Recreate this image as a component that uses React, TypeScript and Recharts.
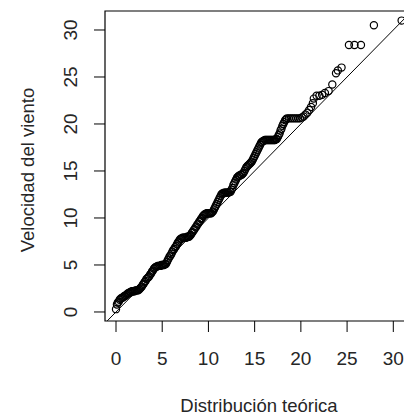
import { ScatterChart, Scatter, XAxis, YAxis, ReferenceArea } from 'recharts';

// Q-Q plot: theoretical quantiles vs observed wind speed
const theoretical = [
  0.0, 0.1, 0.2, 0.3, 0.4, 0.5, 0.6, 0.7, 0.8, 0.9, 1.0, 1.1, 1.2, 1.3, 1.4, 1.5, 1.6, 1.7, 1.8, 1.9,
  2.0, 2.1, 2.2, 2.3, 2.4, 2.5, 2.6, 2.7, 2.8, 2.9, 3.0, 3.1, 3.2, 3.3, 3.4, 3.5, 3.6, 3.7, 3.8, 3.9,
  4.0, 4.1, 4.2, 4.3, 4.4, 4.5, 4.6, 4.7, 4.8, 4.9, 5.0, 5.1, 5.2, 5.3, 5.4, 5.5, 5.6, 5.7, 5.8, 5.9,
  6.0, 6.1, 6.2, 6.3, 6.4, 6.5, 6.6, 6.7, 6.8, 6.9, 7.0, 7.1, 7.2, 7.3, 7.4, 7.5, 7.6, 7.7, 7.8, 7.9,
  8.0, 8.1, 8.2, 8.3, 8.4, 8.5, 8.6, 8.7, 8.8, 8.9, 9.0, 9.1, 9.2, 9.3, 9.4, 9.5, 9.6, 9.7, 9.8, 9.9,
  10.0, 10.1, 10.2, 10.3, 10.4, 10.5, 10.6, 10.7, 10.8, 10.9, 11.0, 11.1, 11.2, 11.3, 11.4, 11.5, 11.6, 11.7, 11.8, 11.9,
  12.0, 12.1, 12.2, 12.3, 12.4, 12.5, 12.6, 12.7, 12.8, 12.9, 13.0, 13.1, 13.2, 13.3, 13.4, 13.5, 13.6, 13.7, 13.8, 13.9,
  14.0, 14.1, 14.2, 14.3, 14.4, 14.5, 14.6, 14.7, 14.8, 14.9, 15.0, 15.1, 15.2, 15.3, 15.4, 15.5, 15.6, 15.7, 15.8, 15.9,
  16.0, 16.1, 16.2, 16.3, 16.4, 16.5, 16.6, 16.7, 16.8, 16.9, 17.0, 17.1, 17.2, 17.3, 17.4, 17.5, 17.6, 17.7, 17.8, 17.9,
  18.0, 18.1, 18.2, 18.3, 18.4, 18.5, 18.7, 18.9, 19.1, 19.3, 19.5, 19.7, 19.9, 20.1, 20.3, 20.5, 20.7, 20.9, 21.1, 21.3,
  21.4, 21.7, 22.0, 22.3, 22.6, 23.0, 23.4, 23.8, 24.0, 24.4, 25.2, 25.8, 26.5, 27.9, 30.9,
];
const windSpeed = [
  0.3, 0.8, 1.0, 1.1, 1.3, 1.4, 1.5, 1.5, 1.6, 1.7, 1.7, 1.8, 1.9, 2.0, 2.0, 2.1, 2.1, 2.2, 2.2, 2.2,
  2.2, 2.3, 2.3, 2.3, 2.3, 2.4, 2.5, 2.6, 2.7, 2.9, 3.0, 3.2, 3.3, 3.5, 3.6, 3.7, 3.8, 4.0, 4.1, 4.3,
  4.4, 4.6, 4.7, 4.8, 4.8, 4.9, 4.9, 4.9, 4.9, 5.0, 5.0, 5.0, 5.0, 5.1, 5.1, 5.3, 5.5, 5.7, 5.9, 6.0,
  6.2, 6.4, 6.6, 6.7, 6.9, 7.0, 7.2, 7.4, 7.5, 7.7, 7.8, 7.8, 7.9, 7.9, 7.9, 7.9, 7.9, 8.0, 8.0, 8.0,
  8.1, 8.2, 8.4, 8.5, 8.7, 8.8, 9.0, 9.1, 9.3, 9.4, 9.6, 9.7, 9.9, 10.0, 10.2, 10.3, 10.4, 10.4, 10.5, 10.5,
  10.5, 10.5, 10.5, 10.5, 10.6, 10.7, 10.9, 11.1, 11.3, 11.5, 11.7, 11.9, 12.1, 12.3, 12.5, 12.6, 12.6, 12.7, 12.7, 12.7,
  12.7, 12.7, 12.7, 12.8, 12.8, 13.0, 13.2, 13.5, 13.7, 13.9, 14.1, 14.3, 14.4, 14.5, 14.5, 14.6, 14.6, 14.7, 14.8, 15.0,
  15.2, 15.4, 15.5, 15.6, 15.7, 15.8, 15.9, 16.0, 16.2, 16.4, 16.6, 16.8, 17.0, 17.2, 17.4, 17.6, 17.8, 18.0, 18.1, 18.2,
  18.2, 18.3, 18.3, 18.3, 18.3, 18.3, 18.3, 18.3, 18.3, 18.3, 18.3, 18.3, 18.3, 18.4, 18.4, 18.6, 18.8, 19.0, 19.3, 19.5,
  19.8, 20.0, 20.2, 20.4, 20.5, 20.6, 20.6, 20.6, 20.6, 20.6, 20.6, 20.6, 20.6, 20.7, 20.8, 21.0, 21.2, 21.5, 21.8, 22.2,
  22.7, 23.0, 23.0, 23.1, 23.3, 23.5, 24.2, 25.4, 25.7, 26.0, 28.4, 28.4, 28.4, 30.5, 31.0,
];
const xTicks = [0, 5, 10, 15, 20, 25, 30];
const yTicks = [0, 5, 10, 15, 20, 25, 30];
const refLineEnds = [-0.95, 32];

const X_MIN = -1.19;
const X_MAX = 32.13;
const Y_MIN = -0.96;
const Y_MAX = 32.02;

const FONT = '"Liberation Sans", Arial, sans-serif';
const TEXT = '#262626';

const points = theoretical.map((x, i) => ({ x, y: windSpeed[i] }));
const lineData = refLineEnds.map((v) => ({ x: v, y: v }));

const OpenCircle = (props: { cx?: number; cy?: number }) => {
  const { cx, cy } = props;
  if (cx == null || cy == null) return null;
  return <circle cx={cx} cy={cy} r={3.6} fill="none" stroke="#000" strokeWidth={1.2} />;
};

const XTick = (props: { x?: number; payload?: { value: number } }) => (
  <text x={props.x} y={365} textAnchor="middle" fontSize={19} fontFamily={FONT} fill={TEXT}>
    {props.payload?.value}
  </text>
);

const YTick = (props: { y?: number; payload?: { value: number } }) => (
  <text
    x={77}
    y={props.y}
    transform={`rotate(-90, 77, ${props.y})`}
    textAnchor="middle"
    fontSize={19}
    fontFamily={FONT}
    fill={TEXT}
  >
    {props.payload?.value}
  </text>
);

export default function App() {
  return (
    <div
      style={{
        position: 'fixed',
        top: 0,
        left: 0,
        width: 404,
        height: 416,
        overflow: 'hidden',
        background: '#fff',
      }}
    >
      <ScatterChart width={440} height={416} margin={{ top: 11, right: 27, bottom: 35, left: 45 }}>
        <XAxis
          type="number"
          dataKey="x"
          domain={[X_MIN, X_MAX]}
          ticks={xTicks}
          allowDataOverflow
          height={60}
          axisLine={false}
          tickSize={11}
          tickLine={{ stroke: '#000', strokeWidth: 1 }}
          tick={<XTick />}
        />
        <YAxis
          type="number"
          dataKey="y"
          domain={[Y_MIN, Y_MAX]}
          ticks={yTicks}
          allowDataOverflow
          width={60}
          axisLine={false}
          tickSize={11}
          tickLine={{ stroke: '#000', strokeWidth: 1 }}
          tick={<YTick />}
        />
        <ReferenceArea
          x1={X_MIN}
          x2={X_MAX}
          y1={Y_MIN}
          y2={Y_MAX}
          fill="none"
          stroke="#000"
          strokeWidth={1.2}
          ifOverflow="visible"
        />
        <Scatter
          data={lineData}
          line={{ stroke: '#000', strokeWidth: 1 }}
          shape={() => null}
          isAnimationActive={false}
        />
        <Scatter data={points} shape={<OpenCircle />} isAnimationActive={false} />
      </ScatterChart>
      <svg
        width={404}
        height={416}
        style={{ position: 'absolute', top: 0, left: 0, pointerEvents: 'none' }}
      >
        <text x={259} y={412} textAnchor="middle" fontSize={18.5} fontFamily={FONT} fill={TEXT}>
          Distribución teórica
        </text>
        <text
          x={34}
          y={170}
          transform="rotate(-90, 34, 170)"
          textAnchor="middle"
          fontSize={18.5}
          fontFamily={FONT}
          fill={TEXT}
        >
          Velocidad del viento
        </text>
      </svg>
    </div>
  );
}
